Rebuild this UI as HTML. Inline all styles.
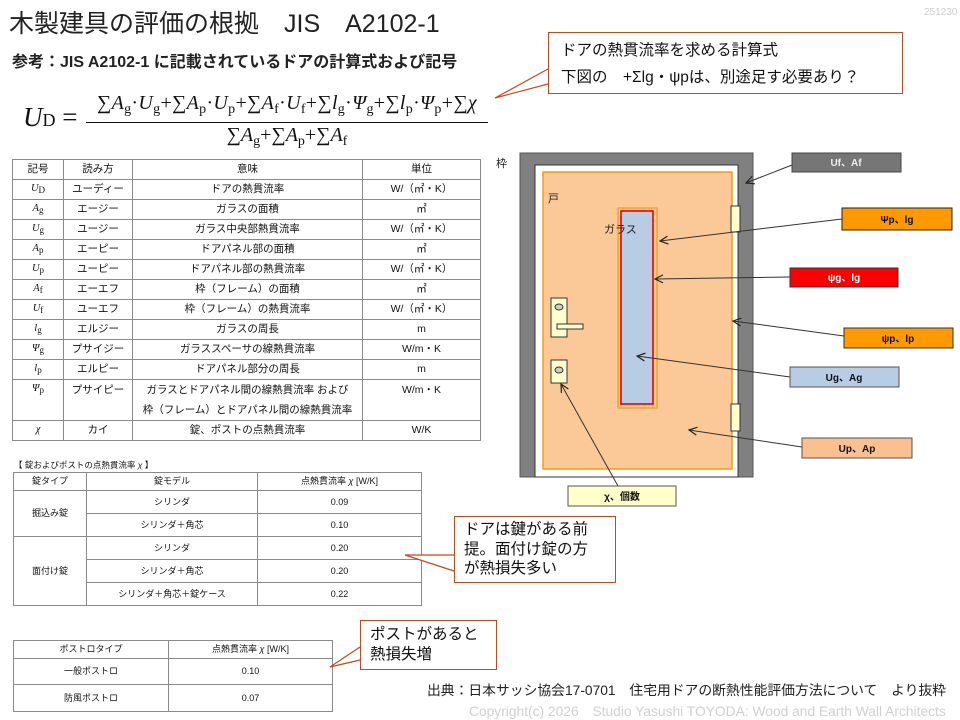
<!DOCTYPE html>
<html><head><meta charset="utf-8">
<style>
*{margin:0;padding:0;box-sizing:border-box}
body{width:960px;height:720px;background:#fff;position:relative;overflow:hidden;font-family:"Liberation Sans","Noto Sans CJK JP",sans-serif;color:#111}
.a{position:absolute;white-space:nowrap}
table{position:absolute;border-collapse:collapse;table-layout:fixed}
td{border:1px solid #8a8a8a;text-align:center;font-size:10px;padding:0;line-height:1}
.t1 td{font-size:10.5px}
.t2 td,.t3 td{font-size:9px}
.it{font-family:"Liberation Serif","Noto Serif CJK SC",serif;font-style:italic;font-size:13px}
.it small{font-size:9px;font-style:normal;vertical-align:-2px}
.co{position:absolute;border:1.3px solid #c9471c;background:#fff}
.math{font-family:"Liberation Serif","Noto Serif CJK SC",serif}
.math sub{font-size:14px;vertical-align:-4px;line-height:0}
</style></head><body>
<div class="a" style="left:9px;top:4px;font-size:25px;color:#222">木製建具の評価の根拠　JIS　A2102-1</div>
<div class="a" style="left:924px;top:7px;font-size:10px;color:#ccc">251230</div>
<div class="a" style="left:12px;top:48px;font-size:16px;font-weight:bold;color:#222">参考：JIS A2102-1 に記載されているドアの計算式および記号</div>

<div class="a math" style="left:23px;top:102px;font-size:27px"><i>U</i><span style="font-size:18px">D</span> =</div>
<div class="a math" style="left:86px;top:92px;font-size:20px;width:402px;text-align:center;letter-spacing:0.3px">∑<i>A</i><sub>g</sub>·<i>U</i><sub>g</sub>+∑<i>A</i><sub>p</sub>·<i>U</i><sub>p</sub>+∑<i>A</i><sub>f</sub>·<i>U</i><sub>f</sub>+∑<i>l</i><sub>g</sub>·<i>Ψ</i><sub>g</sub>+∑<i>l</i><sub>p</sub>·<i>Ψ</i><sub>p</sub>+∑<i>χ</i></div>
<div class="a" style="left:86px;top:122px;width:402px;border-top:1.5px solid #111"></div>
<div class="a math" style="left:86px;top:124px;font-size:20px;width:402px;text-align:center">∑<i>A</i><sub>g</sub>+∑<i>A</i><sub>p</sub>+∑<i>A</i><sub>f</sub></div>

<table class="t1" style="left:12px;top:159px;width:468px">
<colgroup><col style="width:51px"><col style="width:69px"><col style="width:230px"><col style="width:118px"></colgroup>
<tr style="height:20px"><td>記号</td><td>読み方</td><td>意味</td><td>単位</td></tr>
<tr style="height:20px"><td class="it">U<small>D</small></td><td>ユーディー</td><td>ドアの熱貫流率</td><td>W/（㎡・K）</td></tr>
<tr style="height:20px"><td class="it">A<small>g</small></td><td>エージー</td><td>ガラスの面積</td><td>㎡</td></tr>
<tr style="height:20px"><td class="it">U<small>g</small></td><td>ユージー</td><td>ガラス中央部熱貫流率</td><td>W/（㎡・K）</td></tr>
<tr style="height:20px"><td class="it">A<small>p</small></td><td>エーピー</td><td>ドアパネル部の面積</td><td>㎡</td></tr>
<tr style="height:20px"><td class="it">U<small>p</small></td><td>ユーピー</td><td>ドアパネル部の熱貫流率</td><td>W/（㎡・K）</td></tr>
<tr style="height:20px"><td class="it">A<small>f</small></td><td>エーエフ</td><td>枠（フレーム）の面積</td><td>㎡</td></tr>
<tr style="height:20px"><td class="it">U<small>f</small></td><td>ユーエフ</td><td>枠（フレーム）の熱貫流率</td><td>W/（㎡・K）</td></tr>
<tr style="height:20px"><td class="it">l<small>g</small></td><td>エルジー</td><td>ガラスの周長</td><td>m</td></tr>
<tr style="height:20px"><td class="it">Ψ<small>g</small></td><td>プサイジー</td><td>ガラススペーサの線熱貫流率</td><td>W/m・K</td></tr>
<tr style="height:20px"><td class="it">l<small>p</small></td><td>エルピー</td><td>ドアパネル部分の周長</td><td>m</td></tr>
<tr style="height:39px"><td class="it" style="vertical-align:top;padding-top:4px">Ψ<small>p</small></td><td style="vertical-align:top;padding-top:5px">プサイピー</td><td style="line-height:20px">ガラスとドアパネル間の線熱貫流率 および<br>枠（フレーム）とドアパネル間の線熱貫流率</td><td style="vertical-align:top;padding-top:5px">W/m・K</td></tr>
<tr style="height:20px"><td class="it">χ</td><td>カイ</td><td>錠、ポストの点熱貫流率</td><td>W/K</td></tr>
</table>

<div class="a" style="left:14px;top:459px;font-size:8.5px">【 錠およびポストの点熱貫流率 <i>χ</i> 】</div>
<table class="t2" style="left:13px;top:472px;width:408px">
<colgroup><col style="width:73px"><col style="width:171px"><col style="width:164px"></colgroup>
<tr style="height:18px"><td>錠タイプ</td><td>錠モデル</td><td>点熱貫流率 <i>χ</i> [W/K]</td></tr>
<tr style="height:23px"><td rowspan="2">掘込み錠</td><td>シリンダ</td><td>0.09</td></tr>
<tr style="height:23px"><td>シリンダ＋角芯</td><td>0.10</td></tr>
<tr style="height:23px"><td rowspan="3">面付け錠</td><td>シリンダ</td><td>0.20</td></tr>
<tr style="height:23px"><td>シリンダ＋角芯</td><td>0.20</td></tr>
<tr style="height:23px"><td>シリンダ＋角芯＋錠ケース</td><td>0.22</td></tr>
</table>
<table class="t3" style="left:13px;top:640px;width:319px">
<colgroup><col style="width:155px"><col style="width:164px"></colgroup>
<tr style="height:18px"><td>ポストロタイプ</td><td>点熱貫流率 <i>χ</i> [W/K]</td></tr>
<tr style="height:26px"><td>一般ポストロ</td><td>0.10</td></tr>
<tr style="height:27px"><td>防風ポストロ</td><td>0.07</td></tr>
</table>

<svg class="a" style="left:0;top:0" width="960" height="720">
<defs><marker id="ar" markerWidth="10" markerHeight="10" refX="9" refY="5" orient="auto" markerUnits="userSpaceOnUse"><path d="M1,1 L9,5 L1,9" fill="none" stroke="#222" stroke-width="1.2"/></marker></defs>
<polyline points="548,69 495,98 548,84" fill="#fff" stroke="#c9471c" stroke-width="1.2"/>
<polyline points="454,555 405,555 454,571" fill="#fff" stroke="#c9471c" stroke-width="1.2"/>
<polyline points="360,647 330,667 360,660" fill="#fff" stroke="#c9471c" stroke-width="1.2"/>
<rect x="520" y="153" width="233" height="324" fill="#808080" stroke="#555" stroke-width="1"/>
<rect x="535" y="165" width="203" height="312" fill="#fff" stroke="#333" stroke-width="1"/>
<rect x="543" y="172" width="189" height="297" fill="#fbc997" stroke="#f59b12" stroke-width="1.5"/>
<rect x="618" y="208" width="39" height="200" fill="#fbc997" stroke="#f59b12" stroke-width="1.2"/>
<rect x="621" y="211" width="32" height="193" fill="#b8cce4" stroke="#e00" stroke-width="1.6"/>
<rect x="731" y="206" width="9" height="26" fill="#ffffcc" stroke="#333"/>
<rect x="731" y="404" width="9" height="27" fill="#ffffcc" stroke="#333"/>
<rect x="551" y="298" width="16" height="39" fill="#ffffcc" stroke="#333"/>
<ellipse cx="559" cy="307" rx="4" ry="3" fill="#ccc" stroke="#333"/>
<rect x="557" y="324" width="26" height="5" fill="#ffffcc" stroke="#333"/>
<rect x="551" y="360" width="16" height="23" fill="#ffffcc" stroke="#333"/>
<ellipse cx="559" cy="370" rx="4" ry="3" fill="#ccc" stroke="#333"/>
<text x="496" y="167" font-size="11" fill="#222">枠</text>
<text x="548" y="202" font-size="11" fill="#222">戸</text>
<text x="604" y="233" font-size="11" fill="#222">ガラス</text>
<g stroke="#333" stroke-width="1" fill="none" marker-end="url(#ar)">
<line x1="792" y1="165" x2="746" y2="183"/>
<line x1="842" y1="219" x2="660" y2="241"/>
<line x1="790" y1="277" x2="655" y2="279"/>
<line x1="844" y1="336" x2="733" y2="321"/>
<line x1="790" y1="377" x2="637" y2="356"/>
<line x1="802" y1="447" x2="689" y2="430"/>
<line x1="618" y1="486" x2="561" y2="384"/>
</g>
<g font-size="10" font-weight="bold" text-anchor="middle">
<rect x="792" y="153" width="109" height="19" fill="#767676" stroke="#444"/><text x="846" y="166" fill="#eee">Uf、Af</text>
<rect x="842" y="208" width="110" height="22" fill="#ff9900" stroke="#222"/><text x="897" y="223" fill="#111">Ψp、lg</text>
<rect x="790" y="268" width="108" height="19" fill="#ff0000" stroke="#333"/><text x="844" y="281" fill="#fff">ψg、lg</text>
<rect x="844" y="328" width="109" height="20" fill="#ff9900" stroke="#333"/><text x="898" y="342" fill="#111">ψp、lp</text>
<rect x="790" y="367" width="109" height="20" fill="#b8cce4" stroke="#555"/><text x="844" y="381" fill="#111">Ug、Ag</text>
<rect x="802" y="438" width="110" height="20" fill="#fac090" stroke="#555"/><text x="857" y="452" fill="#111">Up、Ap</text>
<rect x="568" y="486" width="108" height="20" fill="#ffffcc" stroke="#555"/><text x="622" y="500" fill="#111">χ、個数</text>
</g>
</svg>

<div class="co" style="left:548px;top:32px;width:355px;height:62px">
<div class="a" style="left:12px;top:5px;font-size:15.5px">ドアの熱貫流率を求める計算式</div>
<div class="a" style="left:12px;top:32px;font-size:15.5px">下図の　+Σlg・ψpは、別途足す必要あり？</div>
</div>
<div class="co" style="left:454px;top:516px;width:162px;height:67px">
<div class="a" style="left:9px;top:3px;font-size:15.5px;line-height:19.5px">ドアは鍵がある前<br>提。面付け錠の方<br>が熱損失多い</div>
</div>
<div class="co" style="left:360px;top:620px;width:137px;height:50px">
<div class="a" style="left:9px;top:4px;font-size:15.5px;line-height:20px">ポストがあると<br>熱損失増</div>
</div>
<div class="a" style="left:427px;top:679px;font-size:13.8px;color:#222">出典：日本サッシ協会17-0701　住宅用ドアの断熱性能評価方法について　より抜粋</div>
<div class="a" style="left:469px;top:700px;font-size:13.8px;color:#d0d0d0">Copyright(c) 2026　Studio Yasushi TOYODA: Wood and Earth Wall Architects</div>
</body></html>
